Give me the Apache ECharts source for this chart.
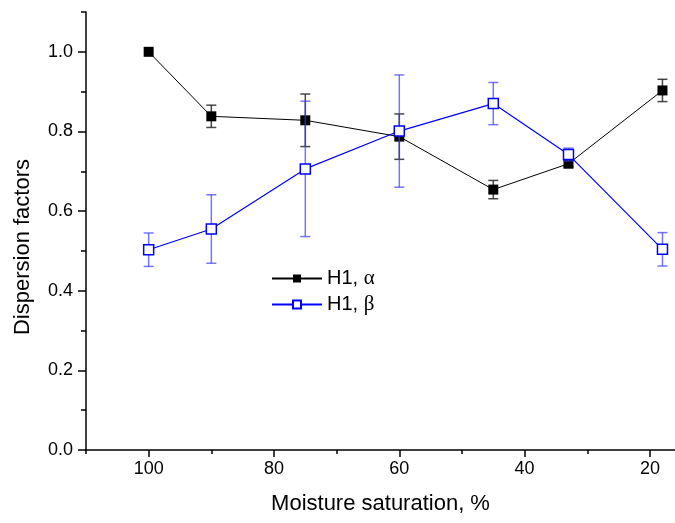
<!DOCTYPE html>
<html>
<head>
<meta charset="utf-8">
<script src="https://cdn.jsdelivr.net/npm/echarts@6/dist/echarts.min.js"></script>
<style>html,body{margin:0;padding:0;background:#fff}#c{width:675px;height:523px}</style>
</head>
<body>
<div id="c"></div>
<script>
var xValues = [100, 90, 75, 60, 45, 33, 18];
var alphaValues = [1.0, 0.838, 0.828, 0.787, 0.654, 0.719, 0.903];
var alphaErr = [0, 0.028, 0.066, 0.057, 0.023, 0.008, 0.028];
var betaValues = [0.503, 0.555, 0.706, 0.801, 0.870, 0.742, 0.504];
var betaErr = [0.042, 0.086, 0.170, 0.141, 0.053, 0.016, 0.042];
var xMajorTicks = [100, 80, 60, 40, 20];
var xMinorTicks = [110, 90, 70, 50, 30];
var yMajorTicks = [0, 0.2, 0.4, 0.6, 0.8, 1.0];
var yMinorTicks = [0.1, 0.3, 0.5, 0.7, 0.9, 1.1];

var FONT = 'Liberation Sans';
function pairs(xs, ys) { return xs.map(function (x, i) { return [x, ys[i]]; }); }
function errData(xs, ys, es) { return xs.map(function (x, i) { return [x, ys[i] - es[i], ys[i] + es[i]]; }); }
function errRender(color) {
  return function (params, api) {
    var lo = api.coord([api.value(0), api.value(1)]);
    var hi = api.coord([api.value(0), api.value(2)]);
    if (Math.abs(hi[1] - lo[1]) < 0.5) return null;
    var w = 5;
    var st = { stroke: color, lineWidth: 1.5 };
    return { type: 'group', children: [
      { type: 'line', shape: { x1: lo[0], y1: lo[1], x2: hi[0], y2: hi[1] }, style: st },
      { type: 'line', shape: { x1: lo[0] - w, y1: lo[1], x2: lo[0] + w, y2: lo[1] }, style: st },
      { type: 'line', shape: { x1: hi[0] - w, y1: hi[1], x2: hi[0] + w, y2: hi[1] }, style: st }
    ] };
  };
}

var chart = echarts.init(document.getElementById('c'));
var axisLineStyle = { color: '#000', width: 1.5 };
chart.setOption({
  animation: false,
  textStyle: { fontFamily: FONT },
  grid: { left: 86, right: 0, top: 12, bottom: 73 },
  legend: {
    orient: 'vertical', left: 266, top: 263, itemWidth: 50, itemHeight: 10, itemGap: 5,
    textStyle: { fontFamily: FONT, fontSize: 20, color: '#000',
      rich: { g: { fontFamily: 'Liberation Serif', fontSize: 21, color: '#000' } } },
    formatter: function (n) { return n === 'a' ? 'H1, {g|α}' : 'H1, {g|β}'; },
    data: ['a', 'b']
  },
  xAxis: [{
    type: 'value', inverse: true, min: 16, max: 110,
    axisLine: { lineStyle: axisLineStyle },
    axisTick: { show: true, length: 7, inside: false, lineStyle: axisLineStyle, customValues: xMajorTicks },
    axisLabel: { fontFamily: FONT, fontSize: 18, color: '#000', margin: 10, customValues: xMajorTicks },
    splitLine: { show: false },
    name: 'Moisture saturation, %', nameLocation: 'middle', nameGap: 43,
    nameTextStyle: { fontFamily: FONT, fontSize: 22, color: '#000' }
  }, {
    type: 'value', inverse: true, min: 16, max: 110, position: 'bottom',
    axisLine: { show: false },
    axisTick: { show: true, length: 4, lineStyle: axisLineStyle, customValues: xMinorTicks },
    axisLabel: { show: false },
    splitLine: { show: false }
  }],
  yAxis: [{
    type: 'value', min: 0, max: 1.1,
    axisLine: { show: true, lineStyle: axisLineStyle },
    axisTick: { show: true, length: 8, lineStyle: axisLineStyle, customValues: yMajorTicks },
    axisLabel: { fontFamily: FONT, fontSize: 18, color: '#000', margin: 13, customValues: yMajorTicks,
      formatter: function (v) { return v.toFixed(1); } },
    splitLine: { show: false },
    name: 'Dispersion factors', nameLocation: 'middle', nameGap: 52,
    nameTextStyle: { fontFamily: FONT, fontSize: 22, color: '#000', padding: [0, 32, 0, 0] }
  }, {
    type: 'value', min: 0, max: 1.1, position: 'left',
    axisLine: { show: false },
    axisTick: { show: true, length: 5, lineStyle: axisLineStyle, customValues: yMinorTicks },
    axisLabel: { show: false },
    splitLine: { show: false }
  }],
  series: [{
    type: 'custom', name: 'aErr', renderItem: errRender('rgba(40,40,40,0.85)'),
    data: errData(xValues, alphaValues, alphaErr), encode: { x: 0, y: [1, 2] }, z: 2, silent: true
  }, {
    type: 'line', name: 'a', data: pairs(xValues, alphaValues),
    symbol: 'rect', symbolSize: 10,
    lineStyle: { color: '#000', width: 1 },
    itemStyle: { color: '#000', borderColor: '#000', borderWidth: 0 }, z: 3
  }, {
    type: 'custom', name: 'bErr', renderItem: errRender('rgba(60,60,255,0.7)'),
    data: errData(xValues, betaValues, betaErr), encode: { x: 0, y: [1, 2] }, z: 4, silent: true
  }, {
    type: 'line', name: 'b', data: pairs(xValues, betaValues),
    symbol: 'rect', symbolSize: 10,
    lineStyle: { color: '#0000ff', width: 1.2 },
    itemStyle: { color: '#fff', borderColor: '#0000ff', borderWidth: 1.5 }, z: 5
  }]
});
</script>
</body>
</html>
